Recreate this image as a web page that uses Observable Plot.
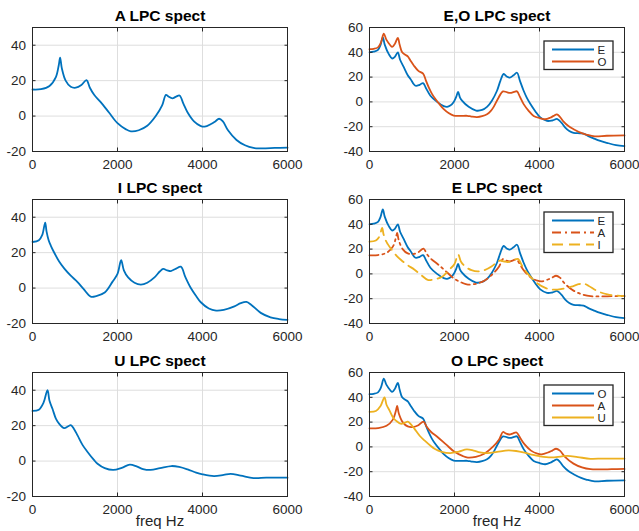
<!DOCTYPE html>
<html><head><meta charset="utf-8">
<script src="https://cdn.jsdelivr.net/npm/d3@7"></script>
<script src="https://cdn.jsdelivr.net/npm/@observablehq/plot@0.6"></script>
<style>
body{margin:0;background:#fff;}
#fig{position:relative;width:639px;height:531px;overflow:hidden;background:#fff;font-family:"Liberation Sans",Arial,Helvetica,sans-serif;}
.panel{position:absolute;}
.panel svg{max-width:none;}
</style></head><body><div id="fig"></div>
<script>
// Tick values
const freqTicks = [0, 2000, 4000, 6000];
const leftYTicks = [-20, 0, 20, 40];
const rightYTicks = [-40, -20, 0, 20, 40, 60];

// LPC spectra: [freq Hz, dB]
const vowelA = [[0,15],[200,15.2],[400,17],[550,22],[620,29],[650,33],[690,27],[780,20],[900,16.5],[1020,16],[1150,17.5],[1270,20.3],[1350,16],[1450,12],[1600,8],[1800,2],[2000,-4],[2200,-7.5],[2314,-8.6],[2500,-8],[2700,-5.5],[2900,0],[3050,6],[3140,12],[3200,11],[3290,10],[3380,11],[3460,11.6],[3550,7],[3650,2],[3800,-3],[3950,-5.5],[4050,-6],[4200,-4.5],[4300,-3],[4390,-1.5],[4480,-3],[4600,-8],[4800,-13.5],[5000,-16.5],[5200,-18],[5400,-18.2],[5700,-18],[6000,-17.8]];
const vowelE = [[0,40],[100,40.5],[200,42],[260,46],[313,52],[360,46],[454,38.5],[533,35],[600,36.5],[666,40],[720,34],[807,28],[900,21.5],[964,18.5],[1081,13],[1180,13.8],[1261,15.2],[1330,11],[1433,5],[1590,0],[1747,-3.4],[1825,-4],[1900,-3],[1982,0],[2040,4],[2084,8],[2130,3.5],[2177,1],[2334,-4],[2507,-7],[2650,-6.5],[2765,-4],[2880,1],[3000,9],[3080,17],[3157,22.5],[3230,20.5],[3298,19.5],[3390,21.5],[3470,23.5],[3540,17],[3627,9],[3700,3.5],[3783,-1.5],[3900,-7.5],[4018,-12.5],[4175,-15.3],[4300,-15],[4420,-13.8],[4520,-17],[4606,-20.7],[4700,-23.5],[4802,-25],[4950,-25.3],[5037,-25.6],[5150,-27.6],[5272,-29.4],[5430,-31.5],[5585,-33],[5800,-34.8],[6000,-35.6]];
const vowelI = [[0,26],[150,27],[230,30],[298,37],[330,32],[380,27],[430,24],[500,20.5],[627,15],[750,11],[900,7],[1060,3.4],[1200,-0.5],[1370,-4.8],[1500,-4.5],[1700,-2.5],[1880,3.5],[2000,8],[2086,15.7],[2150,10],[2250,6],[2400,3],[2550,2],[2700,3],[2870,6],[3000,9.5],[3074,10.8],[3170,10],[3255,9.6],[3380,11],[3490,12.1],[3600,6],[3725,0],[3850,-4.5],[3960,-8],[4150,-11.5],[4320,-12.7],[4500,-12.3],[4750,-10.3],[4900,-8.5],[5035,-7.8],[5150,-9.5],[5370,-14],[5600,-16.5],[5800,-17.5],[6000,-18]];
const vowelO = [[0,42.5],[100,42.8],[200,44],[270,48],[337,55],[400,50],[493,45.5],[533,44.3],[600,47],[666,51.6],[710,46],[768,40],[840,38],[901,36.7],[970,33],[1042,29.4],[1150,25],[1261,22.8],[1330,17],[1394,11.7],[1470,6.5],[1551,2.3],[1650,-2],[1747,-5.9],[1860,-9],[1982,-11],[2138,-11.3],[2300,-11.2],[2400,-11.8],[2530,-12.2],[2650,-11.5],[2765,-10],[2850,-7.5],[2922,-4],[3039,3.6],[3141,8.5],[3230,7.8],[3313,7.2],[3400,8],[3470,8.5],[3540,4],[3627,-1.8],[3740,-7],[3862,-11.3],[4018,-13.2],[4136,-14],[4250,-12.8],[4332,-11.3],[4410,-10],[4480,-12],[4567,-15.9],[4680,-19.5],[4802,-22],[4980,-25],[5115,-26.5],[5300,-27.8],[5585,-27.3],[6000,-27]];
const vowelU = [[0,28.3],[150,29],[260,33],[353,40],[400,34],[470,29.5],[550,24],[630,21],[745,18.6],[830,19.5],[902,20.3],[980,18],[1060,14.5],[1180,9],[1300,5],[1450,0.5],[1530,-1.5],[1700,-4],[1900,-5],[2100,-3.8],[2290,-2],[2450,-3],[2600,-4.5],[2780,-5],[3000,-4],[3270,-2.8],[3450,-3.3],[3650,-4.7],[3850,-6.5],[4000,-7.5],[4270,-8.5],[4500,-7.8],[4660,-7.2],[4900,-8.2],[5200,-9.6],[5500,-9.4],[6000,-9.4]];

const titles = ["A LPC spect","E,O LPC spect","I LPC spect","E LPC spect","U LPC spect","O LPC spect"];
const xLabel = "freq Hz";

const BLUE = "#0072BD", ORANGE = "#D95319", YELLOW = "#EDB120";
const SOLID = null, DASHDOT = "9,4,2,4", DASHED = "11,6";

const panels = [
  {title: titles[0], col: 0, row: 0, series: [{name: "A", data: vowelA, color: BLUE, dash: SOLID}], legend: false},
  {title: titles[1], col: 1, row: 0, series: [{name: "E", data: vowelE, color: BLUE, dash: SOLID}, {name: "O", data: vowelO, color: ORANGE, dash: SOLID}], legend: true},
  {title: titles[2], col: 0, row: 1, series: [{name: "I", data: vowelI, color: BLUE, dash: SOLID}], legend: false},
  {title: titles[3], col: 1, row: 1, series: [{name: "E", data: vowelE, color: BLUE, dash: SOLID}, {name: "A", data: vowelA, color: ORANGE, dash: DASHDOT}, {name: "I", data: vowelI, color: YELLOW, dash: DASHED}], legend: true},
  {title: titles[4], col: 0, row: 2, series: [{name: "U", data: vowelU, color: BLUE, dash: SOLID}], legend: false},
  {title: titles[5], col: 1, row: 2, series: [{name: "O", data: vowelO, color: BLUE, dash: SOLID}, {name: "A", data: vowelA, color: ORANGE, dash: SOLID}, {name: "U", data: vowelU, color: YELLOW, dash: SOLID}], legend: true}
];

const fig = document.getElementById("fig");
const boxTops = [27, 199, 372];
const boxH = 124;
const AX = "#262626";
const GRID = "#dedede";
const FONT = '"Liberation Sans", Arial, Helvetica, sans-serif';
const fmt = d => String(d);

for (const p of panels) {
  const isRight = p.col === 1;
  const yTicks = isRight ? rightYTicks : leftYTicks;
  const yDomain = isRight ? [-40, 60] : [-20, 50];
  const mt = 27, mb = p.row === 2 ? 36 : 22;
  const width = isRight ? 319 : 320;
  const ml = isRight ? 49 : 32, mr = isRight ? 15 : 33;
  const height = mt + boxH + mb;
  const marks = [
    Plot.gridX(freqTicks, {stroke: GRID, strokeOpacity: 1, strokeWidth: 1}),
    Plot.gridY(yTicks, {stroke: GRID, strokeOpacity: 1, strokeWidth: 1}),
    ...p.series.map(s => Plot.line(s.data, {x: d => d[0], y: d => d[1], stroke: s.color, strokeWidth: 1.8, strokeDasharray: s.dash, curve: "catmull-rom"})),
    Plot.frame({stroke: AX, strokeWidth: 1}),
    Plot.axisX(freqTicks, {anchor: "bottom", tickSize: 3.5, dy: -3.5, fill: "none", stroke: AX, label: null}),
    Plot.axisX(freqTicks, {anchor: "top", tickSize: 3.5, dy: 3.5, fill: "none", stroke: AX, label: null}),
    Plot.axisY(yTicks, {anchor: "left", tickSize: 3.5, dx: 3.5, fill: "none", stroke: AX, label: null}),
    Plot.axisY(yTicks, {anchor: "right", tickSize: 3.5, dx: -3.5, fill: "none", stroke: AX, label: null}),
    Plot.axisX(freqTicks, {anchor: "bottom", tickSize: 0, tickPadding: 7.5, fontSize: 13.5, fill: AX, stroke: "none", label: null, tickFormat: fmt}),
    Plot.axisY(yTicks, {anchor: "left", tickSize: 0, tickPadding: 6.5, fontSize: 13.5, fill: AX, stroke: "none", label: null, tickFormat: fmt}),
    Plot.text([p.title], {text: d => d, frameAnchor: "top", lineAnchor: "middle", dy: -11, fontSize: 15.5, fontWeight: "bold", fill: "#000"})
  ];
  if (p.row === 2) marks.push(Plot.text([xLabel], {text: d => d, frameAnchor: "bottom", lineAnchor: "middle", dy: 25, fontSize: 15, fill: AX}));
  const chart = Plot.plot({
    width, height,
    marginTop: mt, marginBottom: mb, marginLeft: ml, marginRight: mr,
    x: {domain: [0, 6000]},
    y: {domain: yDomain},
    style: {background: "transparent", fontFamily: FONT, overflow: "visible"},
    marks
  });
  const div = document.createElement("div");
  div.className = "panel";
  div.style.left = (isRight ? 320 : 0) + "px";
  div.style.top = (boxTops[p.row] - mt) + "px";
  div.style.width = width + "px";
  div.appendChild(chart);
  fig.appendChild(div);

  if (p.legend) {
    const n = p.series.length;
    const lx = 543.5, lw = 69, rowH = 12;
    const ly = boxTops[p.row] + (n === 2 ? 13.5 : 12.5);
    const lh = n === 2 ? 28.5 : 40.5;
    const svg = d3.select(fig).append("svg")
      .attr("width", lw + 4).attr("height", lh + 4)
      .style("position", "absolute").style("left", (lx - 2) + "px").style("top", (ly - 2) + "px");
    svg.append("rect").attr("x", 2).attr("y", 2).attr("width", lw).attr("height", lh)
      .attr("fill", "#fff").attr("stroke", AX).attr("stroke-width", 1.3);
    p.series.forEach((s, i) => {
      const cy = 2 + 8.5 + i * rowH;
      svg.append("line").attr("x1", 10).attr("x2", 52).attr("y1", cy).attr("y2", cy)
        .attr("stroke", s.color).attr("stroke-width", 1.8).attr("stroke-dasharray", s.dash);
      svg.append("text").attr("x", 55.5).attr("y", cy).attr("dy", "0.36em")
        .attr("font-size", 11.5).attr("fill", AX)
        .attr("font-family", FONT).text(s.name);
    });
  }
}
</script></body></html>
